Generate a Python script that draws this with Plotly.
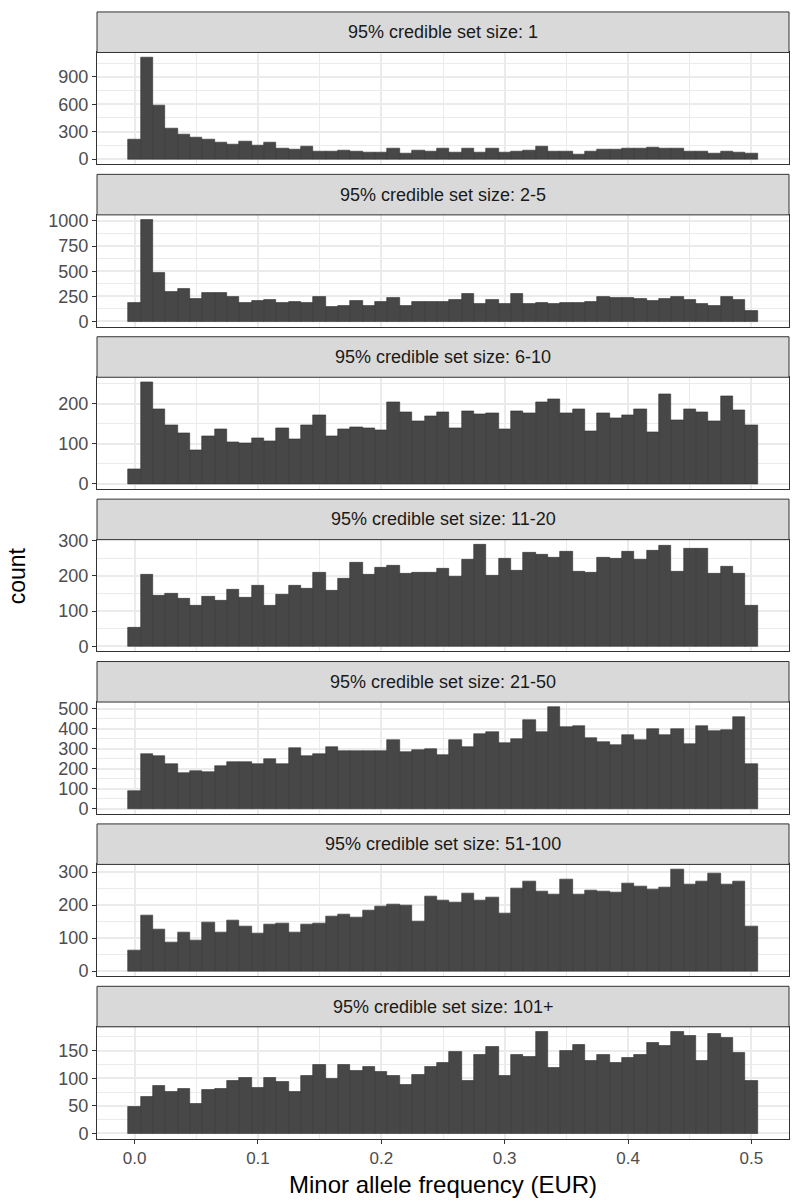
import plotly.graph_objects as go

# bins of width 0.01 centred on 0.00 ... 0.50
maf_bins = [round(i * 0.01, 2) for i in range(51)]

set_labels = ["1", "2-5", "6-10", "11-20", "21-50", "51-100", "101+"]

counts_1 = [210, 1110, 585, 330, 265, 232, 212, 177, 158, 190,
            150, 182, 118, 100, 140, 78, 82, 90, 80, 70,
            70, 115, 65, 92, 86, 112, 68, 120, 76, 112,
            68, 85, 95, 140, 88, 86, 55, 85, 100, 110,
            112, 118, 125, 118, 115, 80, 85, 60, 85, 75, 60]
counts_2_5 = [190, 1010, 485, 290, 325, 220, 280, 280, 245, 190,
              210, 215, 190, 200, 190, 240, 150, 160, 205, 160,
              200, 230, 155, 200, 195, 200, 215, 275, 180, 215,
              180, 275, 180, 190, 180, 185, 190, 195, 240, 230,
              235, 225, 205, 220, 245, 215, 180, 155, 240, 215, 110]
counts_6_10 = [37, 253, 185, 145, 126, 84, 119, 136, 104, 100,
               113, 107, 139, 111, 147, 172, 118, 137, 140, 139,
               133, 204, 179, 157, 169, 179, 138, 182, 173, 175,
               136, 182, 177, 203, 210, 175, 185, 132, 175, 164,
               172, 187, 128, 224, 159, 187, 178, 157, 218, 183, 145]
counts_11_20 = [52, 204, 144, 149, 136, 116, 142, 128, 162, 137,
                171, 116, 146, 172, 163, 210, 158, 192, 237, 203,
                223, 229, 206, 208, 210, 220, 198, 247, 288, 200,
                249, 214, 266, 261, 252, 268, 213, 209, 252, 249,
                268, 246, 270, 285, 211, 276, 276, 207, 227, 206, 116]
counts_21_50 = [87, 273, 266, 224, 177, 187, 182, 214, 233, 233,
                224, 247, 226, 302, 266, 273, 307, 288, 288, 288,
                290, 344, 286, 292, 300, 267, 345, 309, 375, 385,
                330, 351, 443, 385, 509, 411, 416, 356, 332, 321,
                370, 345, 399, 368, 399, 323, 413, 389, 392, 457, 224]
counts_51_100 = [62, 170, 126, 86, 116, 93, 148, 118, 155, 136,
                 113, 140, 143, 117, 140, 143, 166, 171, 162, 183,
                 197, 202, 200, 149, 227, 213, 209, 234, 214, 223,
                 174, 252, 271, 240, 233, 278, 233, 244, 241, 239,
                 266, 257, 247, 253, 308, 262, 271, 297, 263, 273, 134]
counts_101 = [49, 67, 87, 75, 80, 54, 79, 81, 95, 100,
              82, 100, 93, 75, 105, 125, 99, 125, 114, 121,
              112, 105, 89, 106, 121, 128, 147, 95, 142, 157,
              105, 142, 139, 184, 119, 149, 161, 132, 142, 128,
              137, 142, 164, 159, 184, 177, 132, 180, 174, 146, 96]

all_counts = [counts_1, counts_2_5, counts_6_10, counts_11_20,
              counts_21_50, counts_51_100, counts_101]
y_dticks = [300, 250, 100, 100, 100, 100, 50]

W, H = 800, 1204
FONT = "Liberation Sans"
BAR = "#474747"
GRID = "#EBEBEB"
BORDER = "#333333"

# panel geometry (pixels from top)
step = 164.3
strip_top0, panel_top0, panel_bot0 = 3, 44, 157
ML, MR = 97, 11

fig = go.Figure()
shapes = []
annotations = []
layout = {}

for k, (label, counts, dt) in enumerate(zip(set_labels, all_counts, y_dticks)):
    sfx = "" if k == 0 else str(k + 1)
    s_top = strip_top0 + step * k
    p_top = panel_top0 + step * k
    p_bot = panel_bot0 + step * k
    ymax = max(counts)
    last = k == len(set_labels) - 1

    fig.add_trace(go.Bar(
        x=maf_bins, y=counts, width=0.01,
        marker=dict(color=BAR, line=dict(color=BORDER, width=0.6)),
        xaxis="x" + sfx, yaxis="y" + sfx, showlegend=False,
    ))

    layout["xaxis" + sfx] = dict(
        domain=[0, 1], anchor="y" + sfx,
        range=[-0.0305, 0.5305], tick0=0, dtick=0.1, tickformat=".1f",
        showticklabels=last, ticks="outside" if last else "",
        ticklen=4, tickcolor=BORDER,
        showgrid=True, gridcolor=GRID, gridwidth=1.6,
        minor=dict(dtick=0.05, tick0=0, showgrid=True, gridcolor=GRID, gridwidth=0.8),
        zeroline=False, showline=True, mirror=True, linecolor=BORDER, linewidth=1,
        tickfont=dict(family=FONT, size=17, color="#4D4D4D"),
    )
    layout["yaxis" + sfx] = dict(
        domain=[1 - p_bot / H, 1 - p_top / H], anchor="x" + sfx,
        range=[-0.05 * ymax, 1.05 * ymax], tick0=0, dtick=dt,
        ticks="outside", ticklen=4, tickcolor=BORDER,
        showgrid=True, gridcolor=GRID, gridwidth=1.6,
        minor=dict(dtick=dt / 2, tick0=0, showgrid=True, gridcolor=GRID, gridwidth=0.8),
        zeroline=False, showline=True, mirror=True, linecolor=BORDER, linewidth=1,
        tickfont=dict(family=FONT, size=18, color="#4D4D4D"),
    )

    # facet strip
    shapes.append(dict(
        type="rect", xref="paper", yref="paper", x0=0, x1=1,
        y0=1 - p_top / H, y1=1 - s_top / H,
        fillcolor="#D9D9D9", line=dict(color=BORDER, width=1), layer="above",
    ))
    annotations.append(dict(
        text=f"95% credible set size: {label}", xref="paper", yref="paper",
        x=0.5, y=1 - (s_top + p_top) / 2 / H, showarrow=False,
        xanchor="center", yanchor="middle",
        font=dict(family=FONT, size=18, color="#1A1A1A"),
    ))

plot_w = W - ML - MR
annotations.append(dict(
    text="count", xref="paper", yref="paper", x=(17 - ML) / plot_w,
    y=1 - 574 / H, showarrow=False, textangle=-90,
    xanchor="center", yanchor="middle",
    font=dict(family=FONT, size=23, color="black"),
))
annotations.append(dict(
    text="Minor allele frequency (EUR)", xref="paper", yref="paper",
    x=0.5, y=1 - 1189 / H, showarrow=False,
    xanchor="center", yanchor="middle",
    font=dict(family=FONT, size=24, color="black"),
))

fig.update_layout(
    width=W, height=H,
    margin=dict(l=ML, r=MR, t=0, b=0),
    paper_bgcolor="white", plot_bgcolor="white",
    bargap=0, shapes=shapes, annotations=annotations,
    font=dict(family=FONT),
    **layout,
)

# the default page has an 8px body margin; drop it so the figure sits at (0, 0)
fig.write_html("out.html", config={"displayModeBar": False},
               post_script="document.body.style.margin = '0';")
